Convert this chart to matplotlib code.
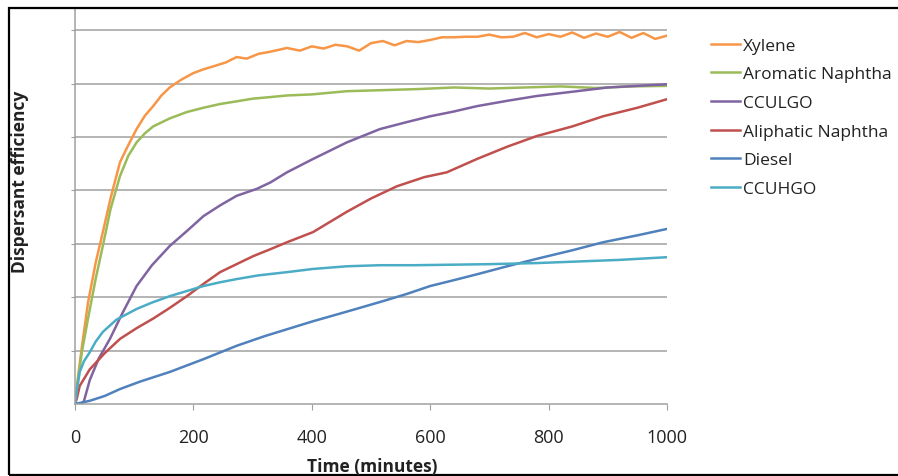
import matplotlib.pyplot as plt
from matplotlib.patches import Rectangle

plt.rcParams['font.family'] = ['Open Sans', 'DejaVu Sans']

# values are in gridline units (no y labels on the original)
xylene_t = [0, 5, 12, 22, 35, 47, 60, 76, 90, 104, 118, 132, 146, 160, 180, 200, 217, 235, 255, 273,
            290, 310, 330, 358, 380, 400, 420, 440, 460, 480, 500, 520, 540, 560, 580, 600, 620, 640,
            660, 680, 700, 720, 740, 760, 780, 800, 820, 840, 860, 880, 900, 920, 940, 960, 980, 1000]
xylene_v = [0, 0.5, 1.1, 1.9, 2.65, 3.22, 3.85, 4.53, 4.85, 5.15, 5.4, 5.58, 5.78, 5.93, 6.08, 6.2,
            6.27, 6.33, 6.4, 6.5, 6.47, 6.56, 6.6, 6.67, 6.62, 6.7, 6.66, 6.73, 6.7, 6.62, 6.76, 6.8,
            6.72, 6.8, 6.78, 6.82, 6.87, 6.87, 6.88, 6.88, 6.92, 6.87, 6.88, 6.95, 6.87, 6.93, 6.88,
            6.96, 6.86, 6.94, 6.88, 6.97, 6.86, 6.95, 6.84, 6.9]

arom_t = [0, 5, 12, 22, 35, 47, 60, 76, 90, 104, 118, 132, 160, 189, 217, 245, 273, 300, 330, 358,
          400, 459, 520, 580, 640, 700, 760, 820, 880, 940, 1000]
arom_v = [0, 0.45, 1.0, 1.6, 2.35, 2.96, 3.65, 4.27, 4.65, 4.9, 5.07, 5.2, 5.35, 5.47, 5.55, 5.62,
          5.67, 5.72, 5.75, 5.78, 5.8, 5.86, 5.88, 5.9, 5.93, 5.91, 5.93, 5.95, 5.92, 5.95, 5.96]

cculgo_t = [0, 10, 15, 25, 40, 59, 80, 104, 130, 160, 190, 217, 245, 273, 307, 330, 358, 402, 459,
            515, 560, 600, 640, 679, 730, 780, 840, 900, 950, 1000]
cculgo_v = [0, 0, 0.05, 0.45, 0.85, 1.22, 1.7, 2.21, 2.6, 2.96, 3.25, 3.52, 3.72, 3.9, 4.03, 4.15,
            4.34, 4.59, 4.9, 5.15, 5.28, 5.39, 5.48, 5.58, 5.68, 5.77, 5.85, 5.93, 5.96, 5.99]

aliph_t = [0, 3, 8, 25, 50, 76, 104, 132, 160, 189, 217, 245, 273, 301, 330, 358, 402, 459, 500,
           544, 590, 628, 679, 730, 780, 840, 892, 950, 1000]
aliph_v = [0, 0.1, 0.34, 0.65, 0.95, 1.22, 1.42, 1.6, 1.8, 2.02, 2.25, 2.47, 2.62, 2.77, 2.9, 3.03,
           3.22, 3.6, 3.85, 4.08, 4.25, 4.34, 4.59, 4.82, 5.02, 5.2, 5.39, 5.55, 5.71]

diesel_t = [0, 25, 50, 76, 110, 160, 217, 273, 320, 358, 402, 459, 515, 560, 600, 640, 679, 730,
            780, 840, 892, 950, 1000]
diesel_v = [0, 0.06, 0.15, 0.28, 0.42, 0.6, 0.84, 1.09, 1.27, 1.4, 1.55, 1.73, 1.91, 2.06, 2.21,
            2.32, 2.43, 2.58, 2.72, 2.88, 3.03, 3.16, 3.28]

ccuhgo_t = [0, 3, 8, 15, 25, 35, 47, 70, 104, 130, 160, 190, 217, 245, 273, 310, 358, 402, 459,
            515, 571, 640, 700, 780, 850, 920, 1000]
ccuhgo_v = [0, 0.25, 0.6, 0.8, 0.97, 1.17, 1.35, 1.58, 1.78, 1.9, 2.02, 2.12, 2.21, 2.28, 2.34,
            2.41, 2.47, 2.53, 2.58, 2.6, 2.6, 2.61, 2.62, 2.64, 2.67, 2.7, 2.75]

series = [
    ('Xylene', xylene_t, xylene_v, '#F79646'),
    ('Aromatic Naphtha', arom_t, arom_v, '#9BBB59'),
    ('CCULGO', cculgo_t, cculgo_v, '#8064A2'),
    ('Aliphatic Naphtha', aliph_t, aliph_v, '#C0504D'),
    ('Diesel', diesel_t, diesel_v, '#4F81BD'),
    ('CCUHGO', ccuhgo_t, ccuhgo_v, '#4BACC6'),
]

W, H = 898, 477
fig = plt.figure(figsize=(W / 100, H / 100), dpi=100)
ax = fig.add_axes([75 / W, (H - 405) / H, (667 - 75) / W, (405 - 10) / H])

for name, t, v, c in series:
    ax.plot(t, v, color=c, lw=1.8, label=name)

ax.set_xlim(0, 1000)
ax.set_ylim(0, 7.4)
ax.set_xticks([0, 200, 400, 600, 800, 1000])
ax.set_yticks(range(1, 8))
ax.set_yticklabels([])
ax.grid(axis='y', color='#a0a0a0', lw=1.1)
ax.set_axisbelow(True)
for s in ['top', 'right']:
    ax.spines[s].set_visible(False)
for s in ['left', 'bottom']:
    ax.spines[s].set_color('#a0a0a0')
    ax.spines[s].set_linewidth(1.1)
ax.tick_params(axis='x', colors='#a0a0a0', labelcolor='#222222', labelsize=13, length=4, pad=13)
ax.tick_params(axis='y', colors='#a0a0a0', length=3)

leg = ax.legend(loc='upper left', bbox_to_anchor=(702 / W, (H - 30) / H),
                bbox_transform=fig.transFigure, frameon=False, fontsize=12.5,
                handlelength=1.7, handletextpad=0.15, labelspacing=0.72, borderpad=0)
for txt in leg.get_texts():
    txt.set_color('#222222')

fig.text(20 / W, (H - 182) / H, 'Dispersant efficiency', rotation=90, ha='center', va='center',
         fontsize=12.5, fontweight='bold', color='#222222')
fig.text(372 / W, (H - 467) / H, 'Time (minutes)', ha='center', va='center',
         fontsize=12.5, fontweight='bold', color='#222222')

fig.patches.append(Rectangle((9 / W, 1.5 / H), 1.0, (H - 10.5) / H, transform=fig.transFigure,
                             fill=False, edgecolor='black', lw=1.6, clip_on=False))

fig.savefig('out.png', dpi=100)
